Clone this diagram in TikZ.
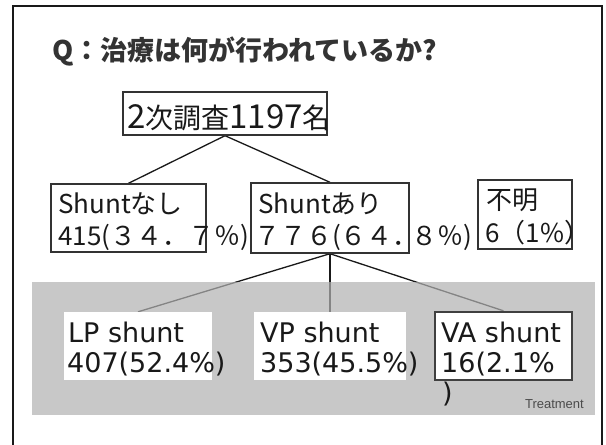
\documentclass[tikz,border=0pt]{standalone}
\usepackage{fontspec}
\setmainfont{DejaVu Sans}
\newfontfamily\jp{Noto Sans CJK JP}
\newfontfamily\dv{DejaVu Sans}
\newfontfamily\ls{Liberation Sans}
\newcommand\bigdg[1]{{\fontsize{33}{36}\selectfont #1}}
\pgfdeclarelayer{bgwhite}
\pgfdeclarelayer{lines}
\pgfdeclarelayer{band}
\pgfsetlayers{bgwhite,lines,band,main}
\tikzset{
  boxA/.style={draw=black!80, line width=1.4pt, fill=white, inner sep=0pt},
  boxW/.style={fill=white, inner sep=0pt},
  boxV/.style={draw=black!75, line width=2.4pt, fill=white, inner sep=0pt},
  jtxt/.style={anchor=base west, inner sep=0pt, font=\jp\fontsize{26}{30}\selectfont, text=black!90},
  ltxt/.style={anchor=base west, inner sep=0pt, font=\dv\fontsize{27}{31}\selectfont, text=black!90},
  conn/.style={draw=black!90, line width=1.3pt},
}
\begin{document}
\begin{tikzpicture}[x=1pt,y=-1pt]
\useasboundingbox (0,0) rectangle (606,445);
\begin{pgfonlayer}{bgwhite}
\fill[white] (0,0) rectangle (606,445);
\end{pgfonlayer}
% outer frame
\draw[line width=2.6pt, black!90] (13,447) -- (13,6) -- (602,6) -- (602,447);
% title
\node[anchor=base west, inner sep=0pt, font=\jp\bfseries\fontsize{27}{32}\selectfont, text=black!80] (title) at (52,60) {Q：治療は何が行われているか?};
% boxes
\node[boxA, minimum width=204pt, minimum height=43pt] (top) at (225,113.5) {};
\node[boxA, minimum width=155pt, minimum height=68pt] (none) at (128.5,218) {};
\node[boxA, minimum width=158pt, minimum height=70pt] (yes) at (330,218) {};
\node[boxA, minimum width=94pt, minimum height=69pt] (unk) at (525,214.5) {};
\node[boxW, minimum width=148pt, minimum height=68pt] (lp) at (138,346) {};
\node[boxW, minimum width=152pt, minimum height=68pt] (vp) at (330,346) {};
\node[boxV, minimum width=137pt, minimum height=68pt] (va) at (503.5,346) {};
% connectors
\begin{pgfonlayer}{lines}
\draw[conn] (top.south) -- (none.north);
\draw[conn] (top.south) -- (yes.north);
\draw[conn] (yes.south) -- (lp.north);
\draw[conn] (yes.south) -- (vp.north);
\draw[conn] (yes.south) -- (va.north);
\end{pgfonlayer}
% treatment band
\begin{pgfonlayer}{band}
\fill[black!30, fill opacity=0.7] (32,282) rectangle (595,415);
\end{pgfonlayer}
% texts
\node[anchor=base west, inner sep=0pt, font=\jp\fontsize{28}{32}\selectfont, text=black!90] (toptxt) at (127,128) {\bigdg{2}次調査\bigdg{1197}名};
\node[jtxt] (none1) at (58,213) {Shuntなし};
\node[jtxt] (none2) at (58,245) {415(３４．７％)};
\node[jtxt] (yes1) at (258,213) {Shuntあり};
\node[jtxt] (yes2) at (254,245) {７７６(６４．\kern-7pt８％)};
\node[jtxt] (unk1) at (486,209) {不明};
\node[jtxt] (unk2) at (485,242) {6（1\%）};
\node[ltxt] (lp1) at (68,342) {LP shunt};
\node[ltxt] (lp2) at (67,372) {407(52.4\%)};
\node[ltxt] (vp1) at (260,342) {VP shunt};
\node[ltxt] (vp2) at (260,372) {353(45.5\%)};
\node[ltxt] (va1) at (441,342) {VA shunt};
\node[ltxt] (va2) at (441,372) {16(2.1\%};
\node[ltxt] (va3) at (442,402) {)};
\node[anchor=base east, inner sep=0pt, font=\ls\fontsize{13}{15}\selectfont, text=black!70] (treat) at (584,408) {Treatment};
\end{tikzpicture}
\end{document}
